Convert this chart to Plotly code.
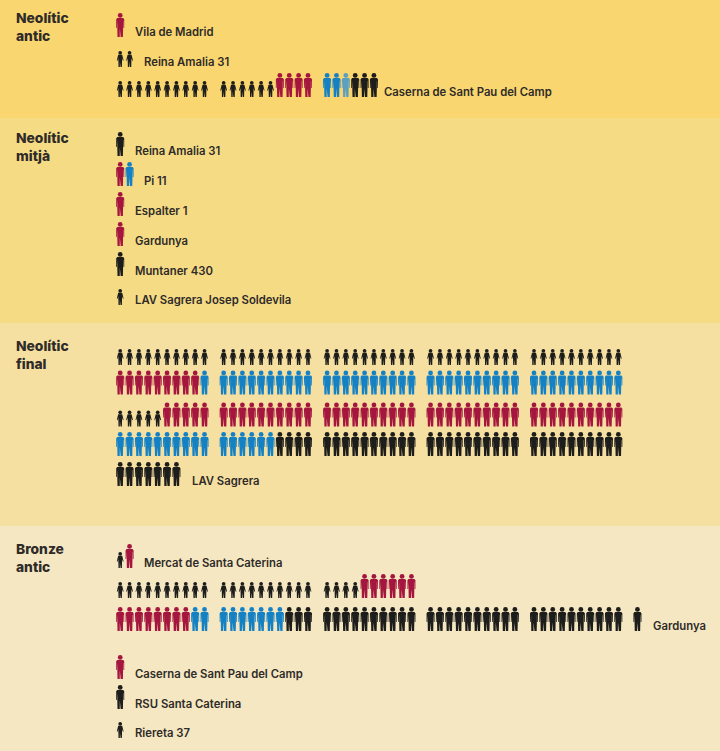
import plotly.graph_objects as go

RED, BLUE, PALE, BLACK = "#A5163F", "#1581C5", "#5C9FBF", "#1D1D1B"
INK = "#2E2B29"

# Periods: (heading, band colour)
periods = ["Neolític<br>antic", "Neolític<br>mitjà", "Neolític<br>final", "Bronze<br>antic"]
period_colors = ["#F9D66F", "#F6DB85", "#F6E0A1", "#F5E7C1"]

# Each row: list of (kind, colour, count); A = adult, S = small figure
neolitic_antic = [
    ("Vila de Madrid", [("A", RED, 1)]),
    ("Reina Amalia 31", [("S", BLACK, 2)]),
    ("Caserna de Sant Pau del Camp",
     [("S", BLACK, 16), ("A", RED, 4), ("A", BLUE, 2), ("A", PALE, 1), ("A", BLACK, 3)]),
]
neolitic_mitja = [
    ("Reina Amalia 31", [("A", BLACK, 1)]),
    ("Pi 11", [("A", RED, 1), ("A", BLUE, 1)]),
    ("Espalter 1", [("A", RED, 1)]),
    ("Gardunya", [("A", RED, 1)]),
    ("Muntaner 430", [("A", BLACK, 1)]),
    ("LAV Sagrera Josep Soldevila", [("S", BLACK, 1)]),
]
neolitic_final = [
    ("", [("S", BLACK, 50)]),
    ("", [("A", RED, 9), ("A", BLUE, 41)]),
    ("", [("S", BLACK, 5), ("A", RED, 45)]),
    ("", [("A", BLUE, 16), ("A", BLACK, 34)]),
    ("LAV Sagrera", [("A", BLACK, 7)]),
]
bronze_antic = [
    ("Mercat de Santa Caterina", [("S", BLACK, 1), ("A", RED, 1)]),
    ("", [("S", BLACK, 24), ("A", RED, 6)]),
    ("Gardunya", [("A", RED, 8), ("A", BLUE, 9), ("A", BLACK, 34)]),
    ("Caserna de Sant Pau del Camp", [("A", RED, 1)]),
    ("RSU Santa Caterina", [("A", BLACK, 1)]),
    ("Riereta 37", [("S", BLACK, 1)]),
]
all_rows = neolitic_antic + neolitic_mitja + neolitic_final + bronze_antic

# Layout (page pixels)
W, H = 720, 751
band_edges = [0, 118, 323, 526, 751]
heading_y = [26.5, 146.5, 354.5, 557.5]
row_bottoms = [37, 67, 97, 156, 186, 216, 246, 276, 305, 365, 394.5, 426.5, 456, 486,
               568, 598, 631, 679, 709, 738]
label_xs = [135, 144, 384, 135, 144, 135, 135, 135, 135, 0, 0, 0, 0, 192,
            144, 0, 653, 135, 135, 135]
STEP, GROUP, X0 = 9.37, 103.45, 120.2

ADULT = [(-3.0, 5.0), (3.0, 5.0), (4.0, 6.2), (4.0, 15.0), (3.3, 15.0), (3.1, 8.0), (2.9, 8.0),
         (2.9, 15), (2.7, 24), (0.45, 24), (0.35, 15.5), (-0.35, 15.5), (-0.45, 24), (-2.7, 24),
         (-2.9, 15), (-2.9, 8.0), (-3.1, 8.0), (-3.3, 15.0), (-4.0, 15.0), (-4.0, 6.2)]
SMALL = [(-2.0, 3.7), (2.0, 3.7), (3.4, 9.6), (2.7, 9.8), (1.9, 7.2), (1.8, 10),
         (1.7, 16), (0.35, 16), (0.3, 10.5), (-0.3, 10.5), (-0.35, 16), (-1.7, 16),
         (-1.8, 10), (-1.9, 7.2), (-2.7, 9.8), (-3.4, 9.6)]
HEAD_Y = {"A": 2.4, "S": 1.8}
HEAD_D = {"A": 4.8, "S": 3.7}
SHAPE = {"A": (ADULT, 24), "S": (SMALL, 16)}

body = {}   # colour -> (xs, ys)
heads = {}  # (colour, kind) -> (xs, ys)
for row, bottom in zip(all_rows, row_bottoms):
    n = 0
    for kind, colour, count in row[1]:
        poly, height = SHAPE[kind]
        top = bottom - height
        for _ in range(count):
            cx = X0 + (n // 10) * GROUP + (n % 10) * STEP
            xs, ys = body.setdefault(colour, ([], []))
            xs.extend([cx + p[0] for p in poly] + [cx + poly[0][0], None])
            ys.extend([top + p[1] for p in poly] + [top + poly[0][1], None])
            hx, hy = heads.setdefault((colour, kind), ([], []))
            hx.append(cx)
            hy.append(top + HEAD_Y[kind])
            n += 1

fig = go.Figure()
for colour, (xs, ys) in body.items():
    fig.add_trace(go.Scatter(x=xs, y=ys, mode="lines", fill="toself", fillcolor=colour,
                             line=dict(width=0, color=colour), hoverinfo="skip", showlegend=False))
for (colour, kind), (xs, ys) in heads.items():
    fig.add_trace(go.Scatter(x=xs, y=ys, mode="markers", hoverinfo="skip", showlegend=False,
                             marker=dict(color=colour, size=HEAD_D[kind], line=dict(width=0))))

FONT = "Inter, sans-serif"
annotations = []
for text, head_y in zip(periods, heading_y):
    annotations.append(dict(x=16, y=head_y, text=text, showarrow=False, xanchor="left",
                            yanchor="middle", align="left", xref="x", yref="y", xshift=-1, borderpad=0,
                            font=dict(family=FONT, size=13.8, weight=800, color=INK)))
for row, bottom, x in zip(all_rows, row_bottoms, label_xs):
    if not row[0]:
        continue
    annotations.append(dict(x=x, y=bottom - 5, text=row[0], showarrow=False, xanchor="left",
                            yanchor="middle", xref="x", yref="y", xshift=-1, borderpad=0,
                            font=dict(family=FONT, size=11.3, weight=600, color=INK)))

shapes = [dict(type="rect", xref="x", yref="y", x0=0, x1=W, y0=band_edges[i], y1=band_edges[i + 1],
               fillcolor=period_colors[i], line=dict(width=0), layer="below")
          for i in range(4)]

fig.update_layout(
    width=W, height=H, margin=dict(l=0, r=0, t=0, b=0), showlegend=False,
    paper_bgcolor=period_colors[-1], plot_bgcolor=period_colors[-1],
    xaxis=dict(range=[0, W], visible=False, fixedrange=True),
    yaxis=dict(range=[H, 0], visible=False, fixedrange=True),
    shapes=shapes, annotations=annotations,
)
fig.write_html("out.html", config={"displayModeBar": False},
               default_width=f"{W}px", default_height=f"{H}px",
               post_script="document.body.style.margin='0';")
